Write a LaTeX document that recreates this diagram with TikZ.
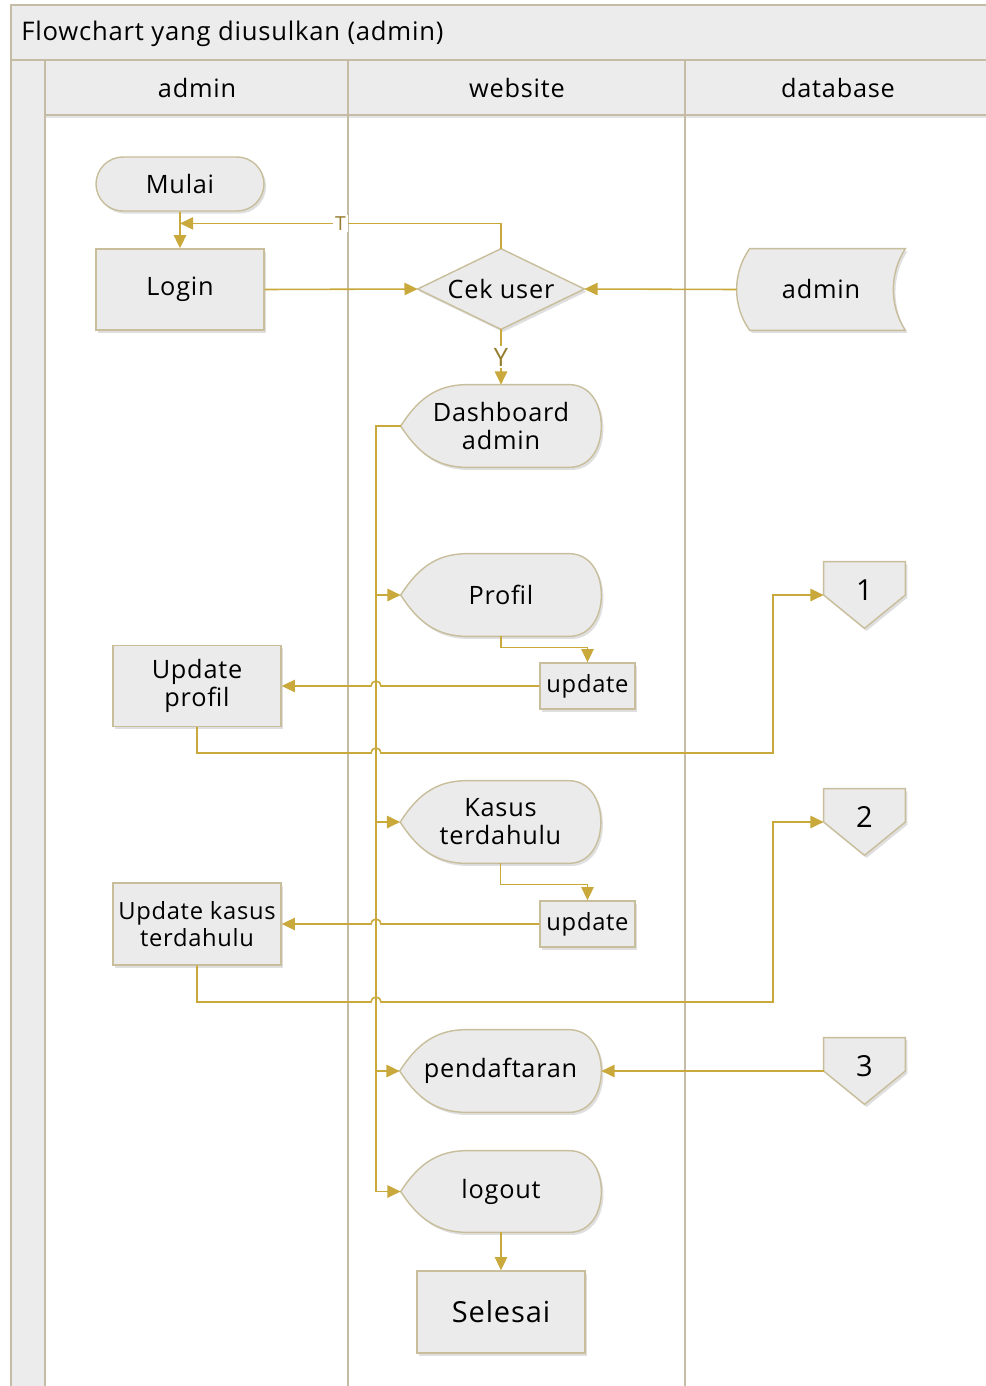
\documentclass[tikz,border=0pt]{standalone}
\usepackage{fontspec}
\setmainfont[LetterSpace=3]{Open Sans}
\usetikzlibrary{arrows.meta,shadows,calc}
\definecolor{ln}{RGB}{201,168,60}
\definecolor{bd}{RGB}{200,190,155}
\definecolor{fl}{RGB}{235,235,235}
\definecolor{lanec}{RGB}{196,188,164}
\definecolor{hdr}{RGB}{236,236,236}
\definecolor{lbl}{RGB}{150,125,45}
\pgfdeclarelayer{bg}
\pgfdeclarelayer{shp}
\pgfsetlayers{bg,shp,main}
\newcommand\bodyf{\fontsize{14.4pt}{16pt}\selectfont}
\newcommand\smallf{\fontsize{13.5pt}{15pt}\selectfont}
\newcommand\numf{\fontsize{16.5pt}{18pt}\selectfont}
\tikzset{
  shp/.style={draw=bd, fill=fl, line width=0.8pt, drop shadow={opacity=0.25,shadow xshift=1.2pt,shadow yshift=-1.5pt}},
  tn/.style={draw=none, inner sep=0pt, align=center, font=\bodyf},
  boxn/.style={shp, inner sep=0pt, align=center, font=\bodyf},
  con/.style={draw=ln, line width=0.9pt},
  arr/.style={con, -{Triangle[length=7.5pt,width=7pt]}},
  laneln/.style={draw=lanec, line width=1.1pt},
  lab/.style={fill=white, inner sep=1pt, text=lbl, font=\bodyf}
}
\newcommand\dispshape[1]{%
\begin{pgfonlayer}{shp}
\path[shp] let \p1=(#1.north west), \p2=(#1.south east), \n1={\x2-\x1}, \n2={\y1-\y2}, \n3={(\y1+\y2)/2} in
 (\x1,\n3) .. controls ({\x1+0.08*\n1},{\y1-0.2*\n2}) and ({\x1+0.17*\n1},\y1) .. ({\x1+0.33*\n1},\y1)
 -- ({\x1+0.84*\n1},\y1) .. controls ({\x1+0.94*\n1},\y1) and (\x2,{\y1-0.22*\n2}) .. (\x2,\n3)
 .. controls (\x2,{\y2+0.22*\n2}) and ({\x1+0.94*\n1},\y2) .. ({\x1+0.84*\n1},\y2)
 -- ({\x1+0.33*\n1},\y2) .. controls ({\x1+0.17*\n1},\y2) and ({\x1+0.08*\n1},{\y2+0.2*\n2}) .. (\x1,\n3) -- cycle;
\end{pgfonlayer}}
\newcommand\storedshape[1]{%
\begin{pgfonlayer}{shp}
\path[shp] let \p1=(#1.north west), \p2=(#1.south east), \n1={\x2-\x1}, \n2={\y1-\y2} in
 ({\x1+0.077*\n1},\y1) -- (\x2,\y1) .. controls ({\x2-0.095*\n1},{\y1-0.3*\n2}) and ({\x2-0.095*\n1},{\y2+0.3*\n2}) .. (\x2,\y2)
 -- ({\x1+0.077*\n1},\y2) .. controls ({\x1-0.026*\n1},{\y2+0.3*\n2}) and ({\x1-0.026*\n1},{\y1-0.3*\n2}) .. ({\x1+0.077*\n1},\y1) -- cycle;
\end{pgfonlayer}}
\newcommand\offshape[1]{%
\begin{pgfonlayer}{shp}
\path[shp] (#1.north west) -- (#1.north east) -- (#1.east) -- (#1.south) -- (#1.west) -- cycle;
\end{pgfonlayer}}
\newcommand\diashape[1]{%
\begin{pgfonlayer}{shp}
\path[shp] (#1.north) -- (#1.east) -- (#1.south) -- (#1.west) -- cycle;
\end{pgfonlayer}}
\begin{document}
\begin{tikzpicture}[x=0.02cm,y=-0.02cm]
\useasboundingbox (0,0) rectangle (986,1386);
\begin{pgfonlayer}{bg}
\fill[white] (0,0) rectangle (986,1386);
\fill[hdr] (11,5) rectangle (986,60);
\fill[hdr] (11,60) rectangle (45,1386);
\fill[hdr] (45,60) rectangle (986,115);
\fill[black!10] (45,115) rectangle (986,118);
\draw[laneln] (11,1386) -- (11,5) -- (986,5);
\draw[laneln] (11,60) -- (986,60);
\draw[laneln] (45,60) -- (45,1386);
\draw[laneln] (348,60) -- (348,1386);
\draw[laneln] (685,60) -- (685,1386);
\draw[laneln] (45,115) -- (986,115);
\end{pgfonlayer}
% titles
\node[tn, anchor=west, font=\fontsize{14.6pt}{16pt}\selectfont] (title) at (21,34) {Flowchart yang diusulkan (admin)};
\node[tn] (h1) at (197,88) {admin};
\node[tn] (h2) at (517,88) {website};
\node[tn] (h3) at (838,88) {database};
% nodes
\node[boxn, rounded corners=0.54cm, minimum width=3.36cm, minimum height=1.08cm] (mulai) at (180,184) {Mulai};
\node[boxn, minimum width=3.36cm, minimum height=1.62cm] (login) at (180,289.5) {\raisebox{-2pt}{Login}};
\node[tn, minimum width=3.32cm, minimum height=1.6cm] (cek) at (501,289) {Cek user}; \diashape{cek}
\node[tn, minimum width=3.36cm, minimum height=1.62cm] (admdb) at (821,289.5) {admin}; \storedshape{admdb}
\node[tn, minimum width=4cm, minimum height=1.64cm] (dash) at (501,426) {Dashboard\\admin}; \dispshape{dash}
\node[tn, minimum width=4cm, minimum height=1.64cm] (profil) at (501,595) {Profil}; \dispshape{profil}
\node[boxn, minimum width=1.9cm, minimum height=0.92cm, font=\smallf] (upd1) at (587.5,686) {\raisebox{-1pt}{update}};
\node[boxn, minimum width=3.36cm, minimum height=1.62cm] (updprof) at (197,686) {Update\\profil};
\node[tn, minimum width=1.62cm, minimum height=1.32cm, font=\numf] (off1) at (864.5,595) {\raisebox{6pt}{1}}; \offshape{off1}
\node[tn, minimum width=4cm, minimum height=1.64cm] (kasus) at (500.5,822) {Kasus\\terdahulu}; \dispshape{kasus}
\node[boxn, minimum width=1.9cm, minimum height=0.92cm, font=\smallf] (upd2) at (587.5,924) {\raisebox{-1pt}{update}};
\node[boxn, minimum width=3.36cm, minimum height=1.64cm, font=\smallf] (updkas) at (197,924) {Update kasus\\terdahulu};
\node[tn, minimum width=1.62cm, minimum height=1.32cm, font=\numf] (off2) at (864.5,822) {\raisebox{6pt}{2}}; \offshape{off2}
\node[tn, minimum width=4.02cm, minimum height=1.64cm] (pend) at (500.5,1071) {\raisebox{-1.5pt}{pendaftaran}}; \dispshape{pend}
\node[tn, minimum width=1.62cm, minimum height=1.32cm, font=\numf] (off3) at (864.5,1071) {\raisebox{6pt}{3}}; \offshape{off3}
\node[tn, minimum width=4cm, minimum height=1.62cm] (logout) at (501,1191.5) {\raisebox{-1.5pt}{logout}}; \dispshape{logout}
\node[boxn, minimum width=3.36cm, minimum height=1.64cm, font=\fontsize{16.5pt}{18pt}\selectfont] (selesai) at (501,1312) {Selesai};
% helper coordinates
\coordinate (tj) at ($(mulai.south)!0.32!(login.north)$);
\coordinate (trunk) at (376,426);
\coordinate (r1) at (773,753);
\coordinate (r2) at (773,1002);
% connectors
\draw[arr] (mulai.south) -- (login.north);
\draw[arr] (cek.north) |- (tj) node[lab, pos=0.75, font=\fontsize{11pt}{12pt}\selectfont] {T};
\draw[arr] (login.east) -- (cek.west);
\draw[arr] (admdb.west) -- (cek.east);
\draw[arr] (cek.south) -- (dash.north) node[lab, midway] {Y};
\draw[arr] (dash.west) -- (trunk) |- (logout.west);
\draw[arr] (trunk |- profil.west) -- (profil.west);
\draw[arr] (trunk |- kasus.west) -- (kasus.west);
\draw[arr] (trunk |- pend.west) -- (pend.west);
\draw[arr] (profil.south) -- ++(0,11) -| (upd1.north);
\draw[arr] (upd1.west) -- ($(trunk |- upd1.west)+(5,0)$) arc[start angle=0,end angle=180,radius=0.1cm] -- (updprof.east);
\draw[arr] (updprof.south) |- ($(trunk |- r1)+(-5,0)$) arc[start angle=180,end angle=0,radius=0.1cm] -- (r1) |- (off1.west);
\draw[arr] (kasus.south) -- ++(0,21) -| (upd2.north);
\draw[arr] (upd2.west) -- ($(trunk |- upd2.west)+(5,0)$) arc[start angle=0,end angle=180,radius=0.1cm] -- (updkas.east);
\draw[arr] (updkas.south) |- ($(trunk |- r2)+(-5,0)$) arc[start angle=180,end angle=0,radius=0.1cm] -- (r2) |- (off2.west);
\draw[arr] (off3.west) -- (pend.east);
\draw[arr] (logout.south) -- (selesai.north);
\end{tikzpicture}
\end{document}
